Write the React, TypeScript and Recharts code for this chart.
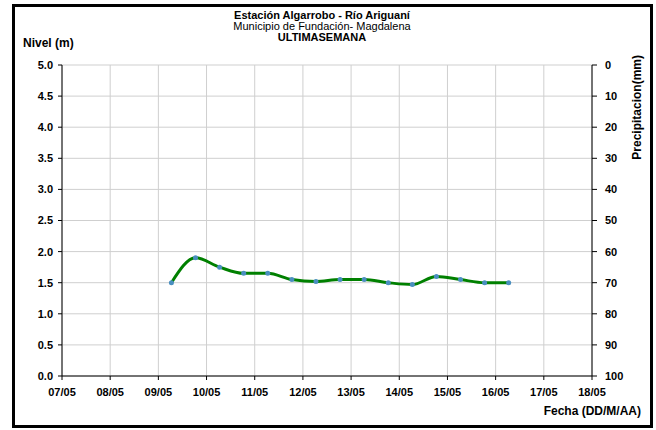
import React from "react";
import { LineChart, Line, XAxis, YAxis, CartesianGrid } from "recharts";

const dayLabels = ["07/05", "08/05", "09/05", "10/05", "11/05", "12/05", "13/05", "14/05", "15/05", "16/05", "17/05", "18/05"];
const times = [
  "09/05 06:30", "09/05 18:30", "10/05 06:30", "10/05 18:30", "11/05 06:30",
  "11/05 18:30", "12/05 06:30", "12/05 18:30", "13/05 06:30", "13/05 18:30",
  "14/05 06:30", "14/05 18:30", "15/05 06:30", "15/05 18:30", "16/05 06:30",
];
const levels = [1.5, 1.9, 1.75, 1.65, 1.65, 1.55, 1.52, 1.55, 1.55, 1.5, 1.47, 1.6, 1.55, 1.5, 1.5];
const nivelTicks = [0, 0.5, 1, 1.5, 2, 2.5, 3, 3.5, 4, 4.5, 5];
const precipTicks = [0, 10, 20, 30, 40, 50, 60, 70, 80, 90, 100];

const firstDay = parseInt(dayLabels[0].slice(0, 2), 10);
const toOffset = (s: string) => {
  const d = parseInt(s.slice(0, 2), 10);
  const [h, m] = s.slice(6).split(":").map((v) => parseInt(v, 10));
  return d - firstDay + (h + m / 60) / 24;
};
const data = times.map((t, i) => ({ x: toOffset(t), nivel: levels[i] }));
const dayTicks = dayLabels.map((_, i) => i);

const FONT = "'Liberation Sans', Arial, sans-serif";
const tickStyle = { fontFamily: FONT, fontWeight: 700, fontSize: 11, fill: "#000" };

export default function App() {
  return (
    <div style={{ position: "absolute", left: 0, top: 0, width: 656, height: 430, background: "#fff" }}>
      <LineChart width={656} height={430} data={data} margin={{ top: 65, right: 14, bottom: 24, left: 12 }}>
        <CartesianGrid yAxisId="left" stroke="#cfcfcf" strokeWidth={1} />
        <XAxis
          dataKey="x"
          type="number"
          domain={[0, dayLabels.length - 1]}
          ticks={dayTicks}
          tickFormatter={(v: number) => dayLabels[v]}
          interval={0}
          height={30}
          axisLine={{ stroke: "#000" }}
          tickLine={{ stroke: "#000" }}
          tickSize={4}
          tickMargin={8}
          tick={tickStyle}
        />
        <YAxis
          yAxisId="left"
          type="number"
          domain={[0, 5]}
          ticks={nivelTicks}
          tickFormatter={(v: number) => v.toFixed(1)}
          interval={0}
          width={50}
          axisLine={{ stroke: "#000" }}
          tickLine={{ stroke: "#000" }}
          tickSize={4}
          tickMargin={5}
          tick={tickStyle}
        />
        <YAxis
          yAxisId="right"
          orientation="right"
          type="number"
          domain={[0, 100]}
          reversed
          ticks={precipTicks}
          interval={0}
          width={50}
          axisLine={{ stroke: "#000" }}
          tickLine={{ stroke: "#000" }}
          tickSize={5}
          tickMargin={8}
          tick={{ ...tickStyle, textAnchor: "start" }}
          allowDataOverflow
        />
        <Line
          yAxisId="left"
          type="monotone"
          dataKey="nivel"
          stroke="#008000"
          strokeWidth={3}
          dot={{ r: 2.5, fill: "#4a8fc0", stroke: "none" }}
          isAnimationActive={false}
        />
      </LineChart>
      <svg
        width={656}
        height={430}
        style={{ position: "absolute", left: 0, top: 0, pointerEvents: "none" }}
      >
        <rect x={13.5} y={5.5} width={638} height={421} fill="none" stroke="#000" strokeWidth={3} />
        <text x={322} y={19} textAnchor="middle" fontFamily={FONT} fontWeight={700} fontSize={11}>
          Estación Algarrobo - Río Ariguaní
        </text>
        <text x={322} y={30} textAnchor="middle" fontFamily={FONT} fontSize={11}>
          Municipio de Fundación- Magdalena
        </text>
        <text x={322} y={41} textAnchor="middle" fontFamily={FONT} fontWeight={700} fontSize={11}>
          ULTIMASEMANA
        </text>
        <text x={23} y={47} fontFamily={FONT} fontWeight={700} fontSize={12}>
          Nivel (m)
        </text>
        <text x={641} y={415} textAnchor="end" fontFamily={FONT} fontWeight={700} fontSize={12}>
          Fecha (DD/M/AA)
        </text>
        <text
          x={0}
          y={0}
          transform="translate(641,55) rotate(-90)"
          textAnchor="end"
          fontFamily={FONT}
          fontWeight={700}
          fontSize={12}
        >
          Precipitacion(mm)
        </text>
      </svg>
    </div>
  );
}
